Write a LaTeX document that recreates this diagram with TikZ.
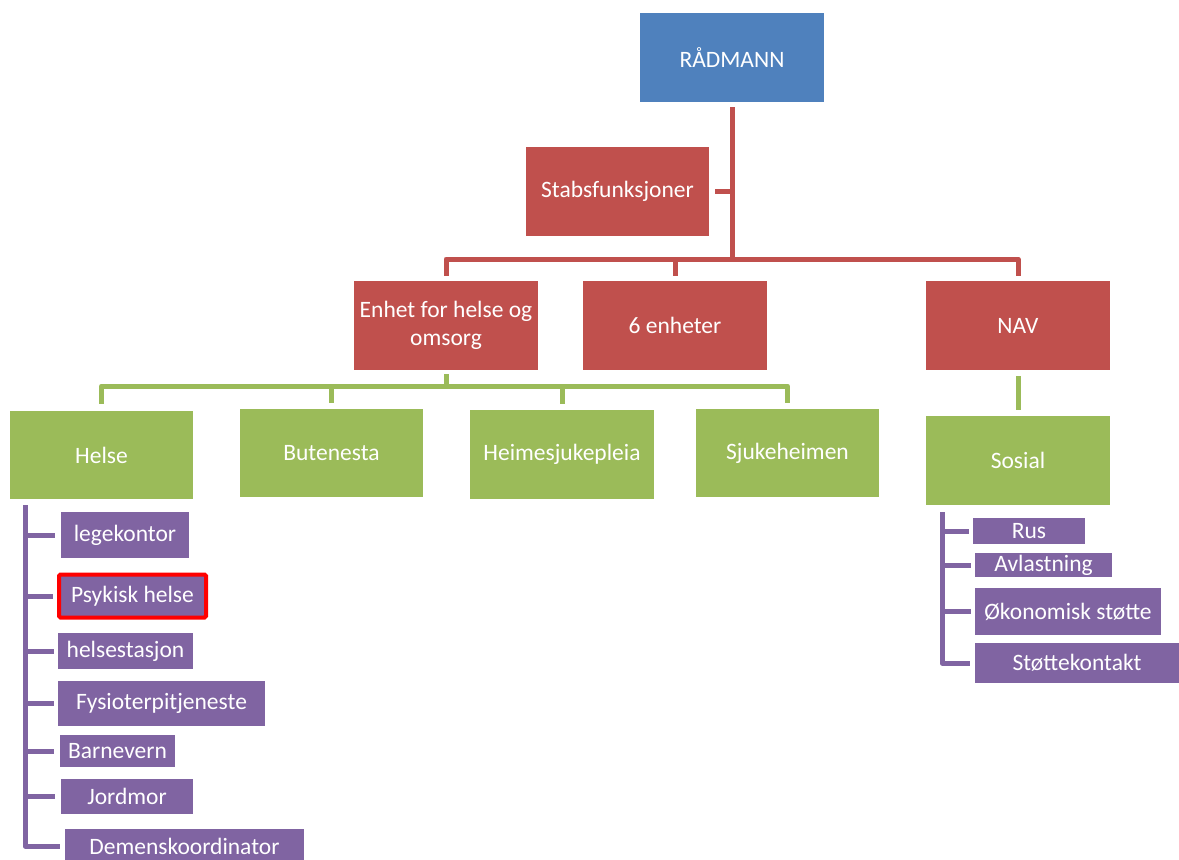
\documentclass[tikz,border=0pt]{standalone}
\usepackage{fontspec}
\setmainfont{Carlito}
\definecolor{oblue}{HTML}{4F81BD}
\definecolor{ored}{HTML}{C0504D}
\definecolor{ogreen}{HTML}{9BBB59}
\definecolor{opurple}{HTML}{8064A2}
\tikzset{
  box/.style={rectangle, inner sep=0pt, text=white, font=\fontsize{23.5}{27.5}\selectfont, align=center},
  bluebox/.style={box, fill=oblue},
  redbox/.style={box, fill=ored},
  greenbox/.style={box, fill=ogreen},
  purbox/.style={box, fill=opurple},
  redln/.style={draw=ored, line width=5pt, line join=round},
  greenln/.style={draw=ogreen, line width=5pt, line join=round},
  purln/.style={draw=opurple, line width=5pt, line join=round},
}
\begin{document}
\begin{tikzpicture}[x=1pt,y=-1pt]
\useasboundingbox (0,0) rectangle (1179,860);
% level 0/1
\node[bluebox, minimum width=184pt, minimum height=89pt] (rad) at (732,57.5) {RÅDMANN};
\node[redbox, minimum width=183pt, minimum height=89pt] (stab) at (617.5,191.5) {Stabsfunksjoner};
\node[redbox, minimum width=184pt, minimum height=89pt] (enhet) at (446,325.5) {Enhet for helse og\\omsorg};
\node[redbox, minimum width=184pt, minimum height=89pt] (seks) at (675,325.5) {6 enheter};
\node[redbox, minimum width=184pt, minimum height=89pt] (nav) at (1018,325.5) {NAV};
% level 2
\node[greenbox, minimum width=183pt, minimum height=88pt] (helse) at (101.5,455) {Helse};
\node[greenbox, minimum width=183pt, minimum height=88pt] (bute) at (331.5,453) {Butenesta};
\node[greenbox, minimum width=184pt, minimum height=89pt] (heim) at (562,454.5) {Heimesjukepleia};
\node[greenbox, minimum width=183pt, minimum height=88pt] (sjuk) at (787.5,453) {Sjukeheimen};
\node[greenbox, minimum width=184pt, minimum height=89pt] (sosial) at (1018,460.5) {Sosial};
% Helse children
\node[purbox, minimum width=128pt, minimum height=46pt] (lege) at (125,535) {legekontor};
\node[purbox, draw=red, line width=4pt, rounded corners=1.5pt, minimum width=147pt, minimum height=43pt] (psyk) at (132.5,596) {Psykisk helse};
\node[purbox, minimum width=135pt, minimum height=36pt] (hstas) at (125.5,651) {helsestasjon};
\node[purbox, minimum width=207pt, minimum height=45pt] (fysio) at (161.5,703.5) {Fysioterpitjeneste};
\node[purbox, minimum width=115pt, minimum height=32pt] (barn) at (117.5,751) {Barnevern};
\node[purbox, minimum width=132pt, minimum height=35pt] (jord) at (127,796.5) {Jordmor};
\node[purbox, minimum width=239pt, minimum height=34pt] (demens) at (184.5,846) {Demenskoordinator};
% Sosial children
\node[purbox, minimum width=112pt, minimum height=26pt] (rus) at (1029,531) {Rus};
\node[purbox, minimum width=137pt, minimum height=24pt] (avl) at (1043.5,565) {Avlastning};
\node[purbox, minimum width=186pt, minimum height=47pt] (okon) at (1068,611.5) {Økonomisk støtte};
\node[purbox, minimum width=204pt, minimum height=40pt] (stotte) at (1077,663) {Støttekontakt};
% red connectors
\coordinate (rbus) at (0,259);
\draw[redln] ([yshift=-5pt]rad.south) -- (rad.south |- rbus);
\draw[redln] ([xshift=6pt]stab.east) -- (stab.east -| rad.south);
\draw[redln] ([yshift=5pt]enhet.north) -- (enhet.north |- rbus) -- (nav.north |- rbus) -- ([yshift=5pt]nav.north);
\draw[redln] ([yshift=5pt]seks.north) -- (seks.north |- rbus);
% green connectors
\coordinate (gbus) at (0,386);
\draw[greenln] ([yshift=-4pt]enhet.south) -- (enhet.south |- gbus);
\draw[greenln] ([yshift=7pt]helse.north) -- (helse.north |- gbus) -- (sjuk.north |- gbus) -- ([yshift=6pt]sjuk.north);
\draw[greenln] ([yshift=6pt]bute.north) -- (bute.north |- gbus);
\draw[greenln] ([yshift=6pt]heim.north) -- (heim.north |- gbus);
\draw[greenln] ([yshift=-6pt]nav.south) -- ([yshift=6pt]sosial.north);
% purple connectors (Helse)
\coordinate (hsp) at (25,0);
\draw[purln] ([yshift=-6pt]helse.south -| hsp) -- (hsp |- demens.west) -- ([xshift=-5pt]demens.west);
\foreach \n/\g in {lege/6, psyk/4, hstas/4, fysio/4, barn/6, jord/6}
  \draw[purln] (hsp |- \n.west) -- ([xshift=-\g pt]\n.west);
% purple connectors (Sosial)
\coordinate (ssp) at (942,0);
\draw[purln] ([yshift=-7pt]sosial.south -| ssp) -- (ssp |- stotte.west) -- ([xshift=-5pt]stotte.west);
\foreach \n in {rus, avl, okon}
  \draw[purln] (ssp |- \n.west) -- ([xshift=-4pt]\n.west);
\end{tikzpicture}
\end{document}
